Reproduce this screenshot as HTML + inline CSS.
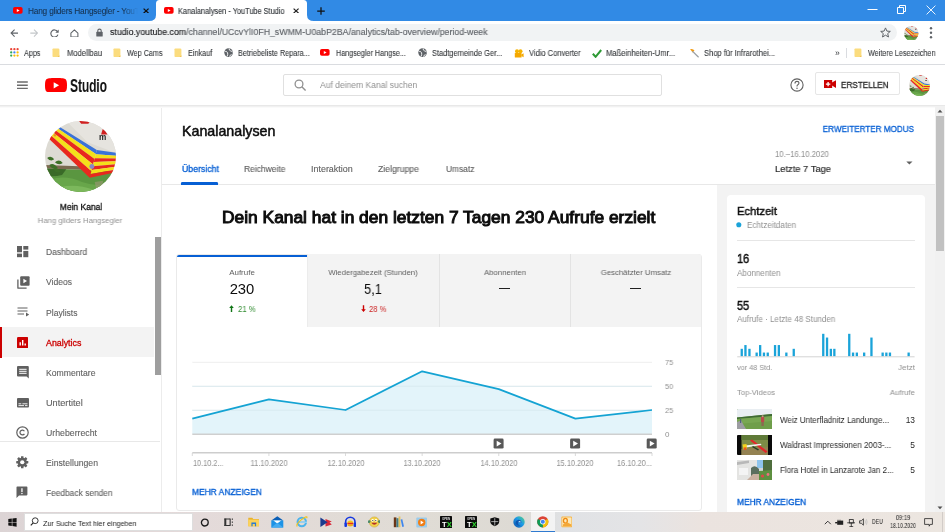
<!DOCTYPE html>
<html><head><meta charset="utf-8"><style>
*{margin:0;padding:0;box-sizing:border-box}
html,body{width:945px;height:532px;overflow:hidden;background:#fff;font-family:"Liberation Sans",sans-serif}
#root{position:absolute;left:0;top:0;width:945px;height:532px;will-change:transform}
.t{position:absolute;white-space:nowrap;will-change:transform}
.r{position:absolute}

</style></head><body><div id="root">
<div class="r" style="left:0px;top:0px;width:945px;height:21px;background:#318ae5;"></div>
<svg class="r" style="left:13px;top:7px;" width="10" height="7" viewBox="0 0 10 7"><rect x="0" y="0" width="9.6" height="6.8" rx="1.8" fill="#f00"/><path d="M3.8 1.9 L6.6 3.4 L3.8 4.9Z" fill="#fff"/></svg>
<div class="t" style="left:27.70px;top:7.07px;font-size:8.3px;line-height:8.3px;color:#17324f;font-weight:400;-webkit-text-stroke:0.08px #17324f;width:110px;padding-bottom:3px;overflow:hidden;letter-spacing:-0.2px;-webkit-mask-image:linear-gradient(90deg,#000 86%,transparent);">Hang gliders Hangsegler - YouTube</div>
<svg class="r" style="left:143.3px;top:7.7px;" width="6.2" height="5.8" viewBox="0 0 6.2 5.8"><path d="M0.6 0.6L5.6 5.2M5.6 0.6L0.6 5.2" stroke="#111" stroke-width="1.3"/></svg>
<svg class="r" style="left:149px;top:0px;" width="166" height="21" viewBox="0 0 166 21"><path d="M0 21 Q7 21 7 15 L7 3.5 Q7 0 10.5 0 L154.5 0 Q158 0 158 3.5 L158 15 Q158 21 165 21 Z" fill="#fff"/></svg>
<svg class="r" style="left:164px;top:7px;" width="10" height="7" viewBox="0 0 10 7"><rect x="0" y="0" width="9.6" height="6.8" rx="1.8" fill="#f00"/><path d="M3.8 1.9 L6.6 3.4 L3.8 4.9Z" fill="#fff"/></svg>
<div class="t" style="left:178.10px;top:7.07px;font-size:8.3px;line-height:8.3px;color:#35393d;font-weight:400;-webkit-text-stroke:0.15px #35393d;transform:scaleX(0.8865);transform-origin:0 0;">Kanalanalysen - YouTube Studio</div>
<svg class="r" style="left:293.3px;top:7.7px;" width="6.2" height="5.8" viewBox="0 0 6.2 5.8"><path d="M0.6 0.6L5.6 5.2M5.6 0.6L0.6 5.2" stroke="#222" stroke-width="1.2"/></svg>
<svg class="r" style="left:316.6px;top:6.9px;" width="8" height="8" viewBox="0 0 8 8"><path d="M4 0.2V7.8M0.2 4H7.8" stroke="#111" stroke-width="1.25"/></svg>
<svg class="r" style="left:867px;top:4px;" width="11" height="11" viewBox="0 0 11 11"><path d="M0.5 5.5H10.5" stroke="#fff" stroke-width="1"/></svg>
<svg class="r" style="left:896px;top:4px;" width="11" height="11" viewBox="0 0 11 11"><path d="M1.5 3.5H7.5V9.5H1.5Z M3.5 3.5V1.5H9.5V7.5H7.5" stroke="#fff" stroke-width="1" fill="none"/></svg>
<svg class="r" style="left:925.5px;top:4.5px;" width="10" height="10" viewBox="0 0 10 10"><path d="M0.6 0.6L9.4 9.4M9.4 0.6L0.6 9.4" stroke="#fff" stroke-width="0.9"/></svg>
<div class="r" style="left:0px;top:21px;width:945px;height:22px;background:#fff;"></div>
<svg class="r" style="left:9.5px;top:29px;" width="8.6" height="8.2" viewBox="0 0 8.6 8.2"><path d="M8.3 4.1H1.2M4.6 0.6L1.1 4.1L4.6 7.6" stroke="#5f6368" stroke-width="1.1" fill="none"/></svg>
<svg class="r" style="left:29.5px;top:29px;" width="8.6" height="8.2" viewBox="0 0 8.6 8.2"><path d="M0.3 4.1H7.4M4 0.6L7.5 4.1L4 7.6" stroke="#c4c7ca" stroke-width="1.1" fill="none"/></svg>
<svg class="r" style="left:49.8px;top:28.9px;" width="9.2" height="8.6" viewBox="0 0 9.2 8.6"><path d="M7.5 2.6A3.6 3.6 0 1 0 7.9 5.6" stroke="#5f6368" stroke-width="1.15" fill="none"/><path d="M8.7 0.4V3.8H5.3Z" fill="#5f6368"/></svg>
<svg class="r" style="left:69.8px;top:28.6px;" width="8.8" height="8.6" viewBox="0 0 8.8 8.6"><path d="M0.9 4.1L4.4 0.9L7.9 4.1V8H0.9Z" stroke="#5f6368" stroke-width="1.05" fill="none" stroke-linejoin="round"/></svg>
<div class="r" style="left:88px;top:23.6px;width:809px;height:17.7px;background:#f1f3f4;border-radius:8.85px;"></div>
<svg class="r" style="left:95px;top:28px;" width="9" height="9" viewBox="0 0 9 9"><rect x="1.3" y="3.8" width="6.4" height="4.8" rx="0.6" fill="#5f6368"/><path d="M2.8 4V2.8A1.7 1.7 0 0 1 6.2 2.8V4" stroke="#5f6368" stroke-width="1.1" fill="none"/></svg>
<div class="t" style="left:109.6px;top:28.31px;font-size:9.2px;line-height:9.2px;color:#202124;-webkit-text-stroke:0.15px #202124;transform:scaleX(0.9551);transform-origin:0 0">studio.youtube.com<span style="color:#5f6368;-webkit-text-stroke:0.15px #5f6368">/channel/UCcvYlI0FH_sWMM-U0abP2BA/analytics/tab-overview/period-week</span></div>
<svg class="r" style="left:880px;top:27px;" width="11" height="11" viewBox="0 0 11 11"><path d="M5.5 0.9L6.9 4.1L10.3 4.4L7.7 6.6L8.5 10L5.5 8.2L2.5 10L3.3 6.6L0.7 4.4L4.1 4.1Z" stroke="#5f6368" stroke-width="1" fill="none" stroke-linejoin="round"/></svg>
<svg class="r" style="left:904px;top:25.5px;" width="14.5" height="14.5" viewBox="0 0 100 100"><defs><clipPath id="CP0"><circle cx="50" cy="50" r="50"/></clipPath></defs><g clip-path="url(#CP0)"><rect width="100" height="100" fill="#dddbd4"/><path d="M30 0H100V45L60 30Z" fill="#e6e4df"/><path d="M0 62L58 64L58 69L0 67Z" fill="#7a6a50"/><path d="M0 67L58 69L100 71V100H0Z" fill="#5a9640"/><path d="M0 67L30 68L24 76Q12 79 0 77Z" fill="#3a6a28"/><path d="M8 82Q30 76 52 86Q74 94 100 86V100H0Z" fill="#68a64a"/><path d="M22 93Q45 88 68 97L72 100H22Z" fill="#7cb85c"/><path d="M70 86L82 84L80 94L72 95Z" fill="#a09878" opacity="0.6"/><path d="M3 52Q9 48 13 54Q8 58 3 52Z M14 58Q20 53 25 59Q19 63 14 58Z M6 62Q12 58 18 66Q11 70 6 62Z M12 68Q18 64 22 72Q15 74 12 68Z" fill="#3d7028"/><path d="M4.0 -2.0 L73.0 41.0 L71.6 46.5 L2.3 -0.0Z" fill="#3a72d8"/><path d="M2.3 -0.0 L71.6 46.5 L69.8 53.5 L0.2 2.5Z" fill="#f4e01a"/><path d="M0.2 2.5 L69.8 53.5 L67.8 61.3 L-2.2 5.3Z" fill="#e8281e"/><path d="M-2.2 5.3 L67.8 61.3 L65.4 70.6 L-5.1 8.6Z" fill="#f4e01a"/><path d="M-5.1 8.6 L65.4 70.6 L63.0 80.0 L-8.0 12.0Z" fill="#e8281e"/><path d="M73.0 41.0 L110.0 46.0 L110.0 49.6 L71.5 46.9Z" fill="#3a72d8"/><path d="M71.5 46.9 L110.0 49.6 L110.0 53.0 L70.1 52.3Z" fill="#f4e01a"/><path d="M70.1 52.3 L110.0 53.0 L110.0 56.3 L68.7 57.8Z" fill="#e8281e"/><path d="M68.7 57.8 L110.0 56.3 L110.0 59.9 L67.2 63.6Z" fill="#f4e01a"/><path d="M67.2 63.6 L110.0 59.9 L110.0 63.3 L65.8 69.1Z" fill="#e8281e"/><path d="M65.8 69.1 L110.0 63.3 L110.0 66.6 L64.4 74.5Z" fill="#f4e01a"/><path d="M64.4 74.5 L110.0 66.6 L110.0 70.0 L63.0 80.0Z" fill="#e8281e"/><text x="76" y="27" font-size="11.5" font-family="Liberation Sans" font-weight="700" fill="#222">m</text><path d="M82 9L88 19L79 19Z" fill="#d02020"/><path d="M48 0H64L61 4H51Z" fill="#d02020"/><circle cx="66" cy="64" r="3.5" fill="#8a86c8"/><circle cx="14" cy="20" r="1.8" fill="#f08a30"/></g></svg>
<svg class="r" style="left:929px;top:26px;" width="4" height="14" viewBox="0 0 4 14"><circle cx="2" cy="2.2" r="1.2" fill="#5f6368"/><circle cx="2" cy="6.7" r="1.2" fill="#5f6368"/><circle cx="2" cy="11.2" r="1.2" fill="#5f6368"/></svg>
<div class="r" style="left:0px;top:43px;width:945px;height:21px;background:#fff;"></div>
<div class="r" style="left:0px;top:63.5px;width:945px;height:1px;background:#dadce0;"></div>
<svg class="r" style="left:9.5px;top:48.3px;" width="9" height="9" viewBox="0 0 9 9"><circle cx="1.2" cy="1.2" r="1.15" fill="#ea4335"/><circle cx="4.4" cy="1.2" r="1.15" fill="#ea4335"/><circle cx="7.6" cy="1.2" r="1.15" fill="#ea4335"/><circle cx="1.2" cy="4.4" r="1.15" fill="#34a853"/><circle cx="4.4" cy="4.4" r="1.15" fill="#4285f4"/><circle cx="7.6" cy="4.4" r="1.15" fill="#fbbc05"/><circle cx="1.2" cy="7.6" r="1.15" fill="#34a853"/><circle cx="4.4" cy="7.6" r="1.15" fill="#fbbc05"/><circle cx="7.6" cy="7.6" r="1.15" fill="#fbbc05"/></svg>
<div class="t" style="left:24.10px;top:48.70px;font-size:8.5px;line-height:8.5px;color:#35383b;font-weight:400;-webkit-text-stroke:0.1px #35383b;transform:scaleX(0.8516);transform-origin:0 0;">Apps</div>
<svg class="r" style="left:52.3px;top:47.8px;" width="8" height="10" viewBox="0 0 8 10"><path d="M0.5 1.2Q0.5 0.5 1.2 0.5H6.2Q7.4 0.5 7.4 1.7V8.3Q7.4 9 6.7 9H1.2Q0.5 9 0.5 8.3Z" fill="#fbdc7e"/><path d="M5.6 9L7.4 7.2V9Z" fill="#eec050"/></svg>
<div class="t" style="left:66.50px;top:48.70px;font-size:8.5px;line-height:8.5px;color:#35383b;font-weight:400;-webkit-text-stroke:0.1px #35383b;transform:scaleX(0.8949);transform-origin:0 0;">Modellbau</div>
<svg class="r" style="left:113.2px;top:47.8px;" width="8" height="10" viewBox="0 0 8 10"><path d="M0.5 1.2Q0.5 0.5 1.2 0.5H6.2Q7.4 0.5 7.4 1.7V8.3Q7.4 9 6.7 9H1.2Q0.5 9 0.5 8.3Z" fill="#fbdc7e"/><path d="M5.6 9L7.4 7.2V9Z" fill="#eec050"/></svg>
<div class="t" style="left:127.00px;top:48.70px;font-size:8.5px;line-height:8.5px;color:#35383b;font-weight:400;-webkit-text-stroke:0.1px #35383b;transform:scaleX(0.8476);transform-origin:0 0;">Wep Cams</div>
<svg class="r" style="left:174.3px;top:47.8px;" width="8" height="10" viewBox="0 0 8 10"><path d="M0.5 1.2Q0.5 0.5 1.2 0.5H6.2Q7.4 0.5 7.4 1.7V8.3Q7.4 9 6.7 9H1.2Q0.5 9 0.5 8.3Z" fill="#fbdc7e"/><path d="M5.6 9L7.4 7.2V9Z" fill="#eec050"/></svg>
<div class="t" style="left:188.40px;top:48.70px;font-size:8.5px;line-height:8.5px;color:#35383b;font-weight:400;-webkit-text-stroke:0.1px #35383b;transform:scaleX(0.8536);transform-origin:0 0;">Einkauf</div>
<svg class="r" style="left:223.6px;top:48.2px;" width="9.2" height="9.2" viewBox="0 0 9.2 9.2"><circle cx="4.6" cy="4.6" r="4.3" fill="#5f6368"/><path d="M1.2 3.4Q3 3.2 3.6 4.8Q4 6.2 3.2 8.4M5.2 0.6Q5 2.4 6.4 2.8Q8 3 8.7 4.4M5.6 8.6Q6 6.8 7.6 6.6" stroke="#fff" stroke-width="0.9" fill="none"/></svg>
<div class="t" style="left:238.30px;top:48.70px;font-size:8.5px;line-height:8.5px;color:#35383b;font-weight:400;-webkit-text-stroke:0.1px #35383b;transform:scaleX(0.8526);transform-origin:0 0;">Betriebeliste Repara...</div>
<svg class="r" style="left:320.3px;top:49.3px;" width="10" height="7" viewBox="0 0 10 7"><rect x="0" y="0" width="9.6" height="6.8" rx="1.8" fill="#f00"/><path d="M3.8 1.9 L6.6 3.4 L3.8 4.9Z" fill="#fff"/></svg>
<div class="t" style="left:335.50px;top:48.70px;font-size:8.5px;line-height:8.5px;color:#35383b;font-weight:400;-webkit-text-stroke:0.1px #35383b;transform:scaleX(0.8490);transform-origin:0 0;">Hangsegler Hangse...</div>
<svg class="r" style="left:417.6px;top:48.2px;" width="9.2" height="9.2" viewBox="0 0 9.2 9.2"><circle cx="4.6" cy="4.6" r="4.3" fill="#5f6368"/><path d="M1.2 3.4Q3 3.2 3.6 4.8Q4 6.2 3.2 8.4M5.2 0.6Q5 2.4 6.4 2.8Q8 3 8.7 4.4M5.6 8.6Q6 6.8 7.6 6.6" stroke="#fff" stroke-width="0.9" fill="none"/></svg>
<div class="t" style="left:432.20px;top:48.70px;font-size:8.5px;line-height:8.5px;color:#35383b;font-weight:400;-webkit-text-stroke:0.1px #35383b;transform:scaleX(0.8752);transform-origin:0 0;">Stadtgemeinde Ger...</div>
<svg class="r" style="left:514px;top:48.5px;" width="10" height="9" viewBox="0 0 10 9"><circle cx="3" cy="2.3" r="2" fill="#f5b301"/><circle cx="6.5" cy="2.3" r="2" fill="#f5b301"/><rect x="0.8" y="4" width="6.8" height="4.5" rx="0.6" fill="#f5a800"/><path d="M7.4 5.4L9.6 4.2V8.2L7.4 7Z" fill="#f5a800"/></svg>
<div class="t" style="left:529.00px;top:48.70px;font-size:8.5px;line-height:8.5px;color:#35383b;font-weight:400;-webkit-text-stroke:0.1px #35383b;transform:scaleX(0.8848);transform-origin:0 0;">Vidio Converter</div>
<svg class="r" style="left:591.8px;top:48.5px;" width="10" height="9" viewBox="0 0 10 9"><path d="M0.8 4.8L3.6 7.8L9.2 1" stroke="#2e9a35" stroke-width="2" fill="none"/></svg>
<div class="t" style="left:606.30px;top:48.70px;font-size:8.5px;line-height:8.5px;color:#35383b;font-weight:400;-webkit-text-stroke:0.1px #35383b;transform:scaleX(0.8974);transform-origin:0 0;">Maßeinheiten-Umr...</div>
<svg class="r" style="left:688.8px;top:48.3px;" width="11" height="10" viewBox="0 0 11 10"><path d="M1 1.2Q4 0.2 5.5 2.6L3.4 4.4Q2.6 2.4 1 1.2Z" fill="#f39c12"/><path d="M3.5 3.2L9.6 9.2" stroke="#9aa0a6" stroke-width="1.2"/></svg>
<div class="t" style="left:703.60px;top:48.70px;font-size:8.5px;line-height:8.5px;color:#35383b;font-weight:400;-webkit-text-stroke:0.1px #35383b;transform:scaleX(0.8892);transform-origin:0 0;">Shop für Infrarothei...</div>
<div class="t" style="left:835.00px;top:48.70px;font-size:8.5px;line-height:8.5px;color:#35383b;font-weight:400;">»</div>
<div class="r" style="left:846px;top:48px;width:1px;height:9.5px;background:#dadce0;"></div>
<svg class="r" style="left:854.2px;top:47.8px;" width="8" height="10" viewBox="0 0 8 10"><path d="M0.5 1.2Q0.5 0.5 1.2 0.5H6.2Q7.4 0.5 7.4 1.7V8.3Q7.4 9 6.7 9H1.2Q0.5 9 0.5 8.3Z" fill="#fbdc7e"/><path d="M5.6 9L7.4 7.2V9Z" fill="#eec050"/></svg>
<div class="t" style="left:868.30px;top:48.70px;font-size:8.5px;line-height:8.5px;color:#35383b;font-weight:400;-webkit-text-stroke:0.1px #35383b;transform:scaleX(0.8520);transform-origin:0 0;">Weitere Lesezeichen</div>
<div class="r" style="left:717px;top:184.5px;width:218px;height:328px;background:#f3f3f3;"></div>
<div class="r" style="left:161px;top:184px;width:774px;height:1px;background:#e8e8e8;"></div>
<div class="r" style="left:160.6px;top:105px;width:1.4px;height:407px;background:#ececec;"></div>
<div class="r" style="left:155px;top:105px;width:5px;height:407px;background:#fff;"></div>
<div class="r" style="left:155.2px;top:236.5px;width:5.6px;height:138.3px;background:#9e9e9e;"></div>
<div class="r" style="left:935px;top:105px;width:10px;height:407px;background:#f1f1f1;"></div>
<div class="r" style="left:936px;top:116px;width:8px;height:134.6px;background:#c1c1c1;"></div>
<svg class="r" style="left:936px;top:108px;" width="8" height="6" viewBox="0 0 8 6"><path d="M1.5 4.5L4 1.8L6.5 4.5Z" fill="#505050"/></svg>
<svg class="r" style="left:936px;top:504.5px;" width="8" height="6" viewBox="0 0 8 6"><path d="M1.5 1.5L4 4.2L6.5 1.5Z" fill="#505050"/></svg>
<div class="r" style="left:0px;top:64.5px;width:945px;height:40.5px;background:#fff;"></div>
<div class="r" style="left:0px;top:105px;width:945px;height:1px;background:#e8e8e8;"></div>
<div class="r" style="left:0px;top:106px;width:945px;height:1px;background:#f1f1f1;"></div>
<div class="r" style="left:0px;top:107px;width:935px;height:1px;background:#fafafa;"></div>
<svg class="r" style="left:17.1px;top:80px;" width="10.8" height="10" viewBox="0 0 10.8 10"><path d="M0 1.9H10.8M0 5.2H10.8M0 8.4H10.8" stroke="#6c6c6c" stroke-width="1.45"/></svg>
<svg class="r" style="left:45.1px;top:77.7px;" width="22" height="14.6" viewBox="0 0 22 14.6"><path d="M11 0C17.5 0 19.6 0.3 20.6 1.2C21.7 2.2 22 4 22 7.3C22 10.6 21.7 12.4 20.6 13.4C19.6 14.3 17.5 14.6 11 14.6C4.5 14.6 2.4 14.3 1.4 13.4C0.3 12.4 0 10.6 0 7.3C0 4 0.3 2.2 1.4 1.2C2.4 0.3 4.5 0 11 0Z" fill="#f00"/><path d="M8.7 4.2L14.1 7.3L8.7 10.4Z" fill="#fff"/></svg>
<div class="t" style="left:69.80px;top:77.48px;font-size:18.2px;line-height:18.2px;color:#111;font-weight:700;transform:scaleX(0.665);transform-origin:0 0;letter-spacing:-0.2px;">Studio</div>
<div class="r" style="left:283.3px;top:73.8px;width:379px;height:22.5px;background:#fff;border:1px solid #e0e0e0;border-radius:2px;"></div>
<svg class="r" style="left:294px;top:79px;" width="13" height="13" viewBox="0 0 13 13"><circle cx="5" cy="5" r="3.9" stroke="#909090" stroke-width="1.3" fill="none"/><path d="M7.8 7.8L11.6 11.6" stroke="#909090" stroke-width="1.4"/></svg>
<div class="t" style="left:319.70px;top:81.08px;font-size:9px;line-height:9px;color:#909090;font-weight:400;transform:scaleX(0.9486);transform-origin:0 0;">Auf deinem Kanal suchen</div>
<svg class="r" style="left:790px;top:78px;" width="14" height="14" viewBox="0 0 14 14"><circle cx="7" cy="7" r="6.1" stroke="#606060" stroke-width="1.1" fill="none"/><path d="M5 5.4Q5 3.4 7 3.4Q9 3.4 9 5.1Q9 6.2 7.6 6.9Q7 7.3 7 8.4" stroke="#606060" stroke-width="1.1" fill="none"/><circle cx="7" cy="10.3" r="0.75" fill="#606060"/></svg>
<div class="r" style="left:815.4px;top:72.2px;width:84.2px;height:22.5px;background:#fff;border:1px solid #e6e6e6;border-radius:2px;"></div>
<svg class="r" style="left:824px;top:80.2px;" width="12" height="8.2" viewBox="0 0 12 8.2"><rect x="0" y="0" width="8.2" height="8.2" fill="#cc0000"/><path d="M8 2.6L12 0.3V7.9L8 5.6Z" fill="#cc0000"/><path d="M4.1 1.9V6.3M1.9 4.1H6.3" stroke="#fff" stroke-width="1.3"/></svg>
<div class="t" style="left:841.00px;top:80.51px;font-size:9.2px;line-height:9.2px;color:#282828;font-weight:400;-webkit-text-stroke:0.3px #282828;transform:scaleX(0.8866);transform-origin:0 0;">ERSTELLEN</div>
<svg class="r" style="left:909.2px;top:74.5px;" width="21" height="21" viewBox="0 0 100 100"><defs><clipPath id="CP"><circle cx="50" cy="50" r="50"/></clipPath></defs><g clip-path="url(#CP)"><rect width="100" height="100" fill="#dddbd4"/><path d="M30 0H100V45L60 30Z" fill="#e6e4df"/><path d="M0 62L58 64L58 69L0 67Z" fill="#7a6a50"/><path d="M0 67L58 69L100 71V100H0Z" fill="#5a9640"/><path d="M0 67L30 68L24 76Q12 79 0 77Z" fill="#3a6a28"/><path d="M8 82Q30 76 52 86Q74 94 100 86V100H0Z" fill="#68a64a"/><path d="M22 93Q45 88 68 97L72 100H22Z" fill="#7cb85c"/><path d="M70 86L82 84L80 94L72 95Z" fill="#a09878" opacity="0.6"/><path d="M3 52Q9 48 13 54Q8 58 3 52Z M14 58Q20 53 25 59Q19 63 14 58Z M6 62Q12 58 18 66Q11 70 6 62Z M12 68Q18 64 22 72Q15 74 12 68Z" fill="#3d7028"/><path d="M4.0 -2.0 L73.0 41.0 L71.6 46.5 L2.3 -0.0Z" fill="#3a72d8"/><path d="M2.3 -0.0 L71.6 46.5 L69.8 53.5 L0.2 2.5Z" fill="#f4e01a"/><path d="M0.2 2.5 L69.8 53.5 L67.8 61.3 L-2.2 5.3Z" fill="#e8281e"/><path d="M-2.2 5.3 L67.8 61.3 L65.4 70.6 L-5.1 8.6Z" fill="#f4e01a"/><path d="M-5.1 8.6 L65.4 70.6 L63.0 80.0 L-8.0 12.0Z" fill="#e8281e"/><path d="M73.0 41.0 L110.0 46.0 L110.0 49.6 L71.5 46.9Z" fill="#3a72d8"/><path d="M71.5 46.9 L110.0 49.6 L110.0 53.0 L70.1 52.3Z" fill="#f4e01a"/><path d="M70.1 52.3 L110.0 53.0 L110.0 56.3 L68.7 57.8Z" fill="#e8281e"/><path d="M68.7 57.8 L110.0 56.3 L110.0 59.9 L67.2 63.6Z" fill="#f4e01a"/><path d="M67.2 63.6 L110.0 59.9 L110.0 63.3 L65.8 69.1Z" fill="#e8281e"/><path d="M65.8 69.1 L110.0 63.3 L110.0 66.6 L64.4 74.5Z" fill="#f4e01a"/><path d="M64.4 74.5 L110.0 66.6 L110.0 70.0 L63.0 80.0Z" fill="#e8281e"/><text x="76" y="27" font-size="11.5" font-family="Liberation Sans" font-weight="700" fill="#222">m</text><path d="M82 9L88 19L79 19Z" fill="#d02020"/><path d="M48 0H64L61 4H51Z" fill="#d02020"/><circle cx="66" cy="64" r="3.5" fill="#8a86c8"/><circle cx="14" cy="20" r="1.8" fill="#f08a30"/></g></svg>
<svg class="r" style="left:45.2px;top:120.8px;" width="71" height="71" viewBox="0 0 100 100"><g clip-path="url(#CP2)"><rect width="100" height="100" fill="#dddbd4"/><path d="M30 0H100V45L60 30Z" fill="#e6e4df"/><path d="M0 62L58 64L58 69L0 67Z" fill="#7a6a50"/><path d="M0 67L58 69L100 71V100H0Z" fill="#5a9640"/><path d="M0 67L30 68L24 76Q12 79 0 77Z" fill="#3a6a28"/><path d="M8 82Q30 76 52 86Q74 94 100 86V100H0Z" fill="#68a64a"/><path d="M22 93Q45 88 68 97L72 100H22Z" fill="#7cb85c"/><path d="M70 86L82 84L80 94L72 95Z" fill="#a09878" opacity="0.6"/><path d="M3 52Q9 48 13 54Q8 58 3 52Z M14 58Q20 53 25 59Q19 63 14 58Z M6 62Q12 58 18 66Q11 70 6 62Z M12 68Q18 64 22 72Q15 74 12 68Z" fill="#3d7028"/><path d="M4.0 -2.0 L73.0 41.0 L71.6 46.5 L2.3 -0.0Z" fill="#3a72d8"/><path d="M2.3 -0.0 L71.6 46.5 L69.8 53.5 L0.2 2.5Z" fill="#f4e01a"/><path d="M0.2 2.5 L69.8 53.5 L67.8 61.3 L-2.2 5.3Z" fill="#e8281e"/><path d="M-2.2 5.3 L67.8 61.3 L65.4 70.6 L-5.1 8.6Z" fill="#f4e01a"/><path d="M-5.1 8.6 L65.4 70.6 L63.0 80.0 L-8.0 12.0Z" fill="#e8281e"/><path d="M73.0 41.0 L110.0 46.0 L110.0 49.6 L71.5 46.9Z" fill="#3a72d8"/><path d="M71.5 46.9 L110.0 49.6 L110.0 53.0 L70.1 52.3Z" fill="#f4e01a"/><path d="M70.1 52.3 L110.0 53.0 L110.0 56.3 L68.7 57.8Z" fill="#e8281e"/><path d="M68.7 57.8 L110.0 56.3 L110.0 59.9 L67.2 63.6Z" fill="#f4e01a"/><path d="M67.2 63.6 L110.0 59.9 L110.0 63.3 L65.8 69.1Z" fill="#e8281e"/><path d="M65.8 69.1 L110.0 63.3 L110.0 66.6 L64.4 74.5Z" fill="#f4e01a"/><path d="M64.4 74.5 L110.0 66.6 L110.0 70.0 L63.0 80.0Z" fill="#e8281e"/><text x="76" y="27" font-size="11.5" font-family="Liberation Sans" font-weight="700" fill="#222">m</text><path d="M82 9L88 19L79 19Z" fill="#d02020"/><path d="M48 0H64L61 4H51Z" fill="#d02020"/><circle cx="66" cy="64" r="3.5" fill="#8a86c8"/><circle cx="14" cy="20" r="1.8" fill="#f08a30"/></g></svg>
<svg width="0" height="0" style="position:absolute"><defs><clipPath id="CP2"><circle cx="50" cy="50" r="50"/></clipPath></defs></svg>
<div class="t" style="left:-219.40px;width:600px;text-align:center;top:203.22px;font-size:8.6px;line-height:8.6px;color:#0d0d0d;font-weight:400;-webkit-text-stroke:0.3px #0d0d0d;transform:scaleX(0.9855);transform-origin:50% 0;">Mein Kanal</div>
<div class="t" style="left:-220.00px;width:600px;text-align:center;top:216.89px;font-size:7.8px;line-height:7.8px;color:#909090;font-weight:400;transform:scaleX(0.9831);transform-origin:50% 0;">Hang gliders Hangsegler</div>
<div class="r" style="left:0px;top:327.1px;width:154px;height:30.3px;background:#f3f3f3;"></div>
<div class="r" style="left:0px;top:327.1px;width:2.3px;height:30.5px;background:#cc0000;"></div>
<div class="t" style="left:45.50px;top:248.02px;font-size:8.6px;line-height:8.6px;color:#606060;font-weight:400;-webkit-text-stroke:0.1px #606060;transform:scaleX(0.9793);transform-origin:0 0;">Dashboard</div>
<div class="t" style="left:45.50px;top:278.02px;font-size:8.6px;line-height:8.6px;color:#606060;font-weight:400;-webkit-text-stroke:0.1px #606060;transform:scaleX(0.9946);transform-origin:0 0;">Videos</div>
<div class="t" style="left:45.50px;top:308.52px;font-size:8.6px;line-height:8.6px;color:#606060;font-weight:400;-webkit-text-stroke:0.1px #606060;transform:scaleX(0.9987);transform-origin:0 0;">Playlists</div>
<div class="t" style="left:45.50px;top:338.52px;font-size:8.6px;line-height:8.6px;color:#cc0000;font-weight:400;-webkit-text-stroke:0.3px #cc0000;transform:scaleX(1.0287);transform-origin:0 0;">Analytics</div>
<div class="t" style="left:45.50px;top:368.82px;font-size:8.6px;line-height:8.6px;color:#606060;font-weight:400;-webkit-text-stroke:0.1px #606060;transform:scaleX(1.0054);transform-origin:0 0;">Kommentare</div>
<div class="t" style="left:45.50px;top:398.82px;font-size:8.6px;line-height:8.6px;color:#606060;font-weight:400;-webkit-text-stroke:0.1px #606060;transform:scaleX(1.0665);transform-origin:0 0;">Untertitel</div>
<div class="t" style="left:45.50px;top:429.02px;font-size:8.6px;line-height:8.6px;color:#606060;font-weight:400;-webkit-text-stroke:0.1px #606060;transform:scaleX(1.0161);transform-origin:0 0;">Urheberrecht</div>
<div class="t" style="left:45.50px;top:459.02px;font-size:8.6px;line-height:8.6px;color:#606060;font-weight:400;-webkit-text-stroke:0.1px #606060;transform:scaleX(1.0070);transform-origin:0 0;">Einstellungen</div>
<div class="t" style="left:45.50px;top:489.02px;font-size:8.6px;line-height:8.6px;color:#606060;font-weight:400;-webkit-text-stroke:0.1px #606060;transform:scaleX(0.9741);transform-origin:0 0;">Feedback senden</div>
<div class="r" style="left:0px;top:441px;width:160px;height:1px;background:#e8e8e8;"></div>
<svg class="r" style="left:17px;top:246px;" width="11.5" height="11.5" viewBox="0 0 11.5 11.5"><rect x="0" y="0" width="5" height="6.3" fill="#606060"/><rect x="6.3" y="0" width="5" height="3.6" fill="#606060"/><rect x="0" y="7.6" width="5" height="3.6" fill="#606060"/><rect x="6.3" y="4.9" width="5" height="6.3" fill="#606060"/></svg>
<svg class="r" style="left:16.5px;top:275.5px;" width="13" height="13" viewBox="0 0 13 13"><path d="M0.9 3.4V11.9Q0.9 12.2 1.2 12.2H9.6" stroke="#606060" stroke-width="1.3" fill="none"/><rect x="3.2" y="0.3" width="9.4" height="9.4" rx="1" fill="#606060"/><path d="M6.4 2.7L10 5L6.4 7.3Z" fill="#fff"/></svg>
<svg class="r" style="left:16.8px;top:307px;" width="12.5" height="9.5" viewBox="0 0 12.5 9.5"><path d="M0.5 1H10.5M0.5 4H10.5M0.5 7H7" stroke="#606060" stroke-width="1.2"/><path d="M9 5.5L12.3 7.6L9 9.6Z" fill="#606060"/></svg>
<svg class="r" style="left:16.9px;top:336.5px;" width="11.5" height="11.7" viewBox="0 0 11.5 11.7"><rect x="0" y="0" width="11.3" height="11.5" rx="1.3" fill="#cc0000"/><path d="M3.2 8.5V5.2M5.7 8.5V3M8.2 8.5V6.6" stroke="#fff" stroke-width="1.4"/></svg>
<svg class="r" style="left:16.8px;top:366px;" width="12" height="13" viewBox="0 0 12 13"><path d="M1 0H10.8Q11.8 0 11.8 1V12.6L9.6 10.4H1Q0 10.4 0 9.4V1Q0 0 1 0Z" fill="#606060"/><path d="M2.2 3.3H9.6M2.2 5.3H9.6M2.2 7.3H9.6" stroke="#fff" stroke-width="1"/></svg>
<svg class="r" style="left:16.9px;top:397.8px;" width="12.2" height="10" viewBox="0 0 12.2 10"><rect x="0" y="0" width="12" height="9.5" rx="1" fill="#606060"/><path d="M1.5 5.8H4.3M5.4 5.8H10.5M1.5 7.6H7M8 7.6H10.5" stroke="#fff" stroke-width="0.9"/></svg>
<svg class="r" style="left:16.3px;top:426.3px;" width="13" height="13" viewBox="0 0 13 13"><circle cx="6.5" cy="6.5" r="5.7" stroke="#606060" stroke-width="1.2" fill="none"/><path d="M8.4 5.2A2.4 2.4 0 1 0 8.4 7.8" stroke="#606060" stroke-width="1.2" fill="none"/></svg>
<svg class="r" style="left:16.45px;top:456px;" width="12.5" height="12.5" viewBox="0 0 12.5 12.5"><circle cx="6.25" cy="6.25" r="4.6" fill="#606060"/><rect x="5.00" y="0.2" width="2.5" height="3" rx="0.4" fill="#606060" transform="rotate(0 6.25 6.25)"/><rect x="5.00" y="0.2" width="2.5" height="3" rx="0.4" fill="#606060" transform="rotate(45 6.25 6.25)"/><rect x="5.00" y="0.2" width="2.5" height="3" rx="0.4" fill="#606060" transform="rotate(90 6.25 6.25)"/><rect x="5.00" y="0.2" width="2.5" height="3" rx="0.4" fill="#606060" transform="rotate(135 6.25 6.25)"/><rect x="5.00" y="0.2" width="2.5" height="3" rx="0.4" fill="#606060" transform="rotate(180 6.25 6.25)"/><rect x="5.00" y="0.2" width="2.5" height="3" rx="0.4" fill="#606060" transform="rotate(225 6.25 6.25)"/><rect x="5.00" y="0.2" width="2.5" height="3" rx="0.4" fill="#606060" transform="rotate(270 6.25 6.25)"/><rect x="5.00" y="0.2" width="2.5" height="3" rx="0.4" fill="#606060" transform="rotate(315 6.25 6.25)"/><circle cx="6.25" cy="6.25" r="2.1" fill="#fff"/></svg>
<svg class="r" style="left:16.3px;top:485.6px;" width="12.5" height="12.5" viewBox="0 0 12.5 12.5"><path d="M0.5 1.2Q0.5 0.4 1.3 0.4H10.6Q11.4 0.4 11.4 1.2V8.6Q11.4 9.4 10.6 9.4H3L0.5 11.9Z" fill="#606060"/><path d="M5.95 2.2V5.9" stroke="#fff" stroke-width="1.3"/><circle cx="5.95" cy="7.4" r="0.75" fill="#fff"/></svg>
<div class="t" style="left:181.50px;top:123.57px;font-size:14.2px;line-height:14.2px;color:#0d0d0d;font-weight:400;-webkit-text-stroke:0.5px #0d0d0d;transform:scaleX(1.0036);transform-origin:0 0;">Kanalanalysen</div>
<div class="t" style="left:181.50px;top:165.35px;font-size:8.8px;line-height:8.8px;color:#065fd4;font-weight:400;-webkit-text-stroke:0.3px #065fd4;transform:scaleX(0.9901);transform-origin:0 0;">Übersicht</div>
<div class="t" style="left:243.70px;top:165.35px;font-size:8.8px;line-height:8.8px;color:#606060;font-weight:400;-webkit-text-stroke:0.12px #606060;transform:scaleX(0.9619);transform-origin:0 0;">Reichweite</div>
<div class="t" style="left:310.60px;top:165.35px;font-size:8.8px;line-height:8.8px;color:#606060;font-weight:400;-webkit-text-stroke:0.12px #606060;transform:scaleX(1.0148);transform-origin:0 0;">Interaktion</div>
<div class="t" style="left:378.30px;top:165.35px;font-size:8.8px;line-height:8.8px;color:#606060;font-weight:400;-webkit-text-stroke:0.12px #606060;transform:scaleX(0.9836);transform-origin:0 0;">Zielgruppe</div>
<div class="t" style="left:445.60px;top:165.35px;font-size:8.8px;line-height:8.8px;color:#606060;font-weight:400;-webkit-text-stroke:0.12px #606060;transform:scaleX(0.9522);transform-origin:0 0;">Umsatz</div>
<div class="r" style="left:181px;top:182px;width:36.5px;height:2.5px;background:#065fd4;border-radius:1.2px 1.2px 0 0;"></div>
<div class="t" style="left:314.30px;width:600px;text-align:right;top:124.98px;font-size:9px;line-height:9px;color:#065fd4;font-weight:400;-webkit-text-stroke:0.3px #065fd4;transform:scaleX(0.9024);transform-origin:100% 0;">ERWEITERTER MODUS</div>
<div class="t" style="left:775.00px;top:150.17px;font-size:8.3px;line-height:8.3px;color:#909090;font-weight:400;transform:scaleX(0.9342);transform-origin:0 0;">10.–16.10.2020</div>
<div class="t" style="left:775.00px;top:164.07px;font-size:9.6px;line-height:9.6px;color:#282828;font-weight:400;-webkit-text-stroke:0.15px #282828;transform:scaleX(0.9744);transform-origin:0 0;">Letzte 7 Tage</div>
<svg class="r" style="left:906px;top:160.5px;" width="7" height="4" viewBox="0 0 7 4"><path d="M0.3 0.5H6.5L3.4 3.6Z" fill="#606060"/></svg>
<div class="t" style="left:222.20px;top:208.50px;font-size:17.0px;line-height:17.0px;color:#0d0d0d;font-weight:400;-webkit-text-stroke:1.0px #0d0d0d;transform:scaleX(1.0218);transform-origin:0 0;">Dein Kanal hat in den letzten 7 Tagen 230 Aufrufe erzielt</div>
<div class="r" style="left:176.3px;top:254.3px;width:525.4px;height:256.6px;background:#fff;border:1px solid #eaeaea;border-radius:3px;"></div>
<div class="r" style="left:306.8px;top:254.3px;width:394.2px;height:72.4px;background:#f3f3f3;border-top-right-radius:3px;"></div>
<div class="r" style="left:177px;top:254.5px;width:130.5px;height:2.2px;background:#065fd4;border-top-left-radius:2px;"></div>
<div class="r" style="left:439px;top:254.3px;width:1px;height:72.5px;background:#e3e3e3;"></div>
<div class="r" style="left:570.2px;top:254.3px;width:1px;height:72.5px;background:#e3e3e3;"></div>
<div class="r" style="left:306.8px;top:254.3px;width:1px;height:72.4px;background:#ececec;"></div>
<div class="t" style="left:-57.75px;width:600px;text-align:center;top:268.61px;font-size:7.9px;line-height:7.9px;color:#606060;font-weight:400;transform:scaleX(1.0090);transform-origin:50% 0;">Aufrufe</div>
<div class="t" style="left:73.25px;width:600px;text-align:center;top:268.61px;font-size:7.9px;line-height:7.9px;color:#606060;font-weight:400;transform:scaleX(0.9741);transform-origin:50% 0;">Wiedergabezeit (Stunden)</div>
<div class="t" style="left:204.60px;width:600px;text-align:center;top:268.61px;font-size:7.9px;line-height:7.9px;color:#606060;font-weight:400;transform:scaleX(0.9833);transform-origin:50% 0;">Abonnenten</div>
<div class="t" style="left:335.60px;width:600px;text-align:center;top:268.61px;font-size:7.9px;line-height:7.9px;color:#606060;font-weight:400;transform:scaleX(0.9852);transform-origin:50% 0;">Geschätzter Umsatz</div>
<div class="t" style="left:-57.75px;width:600px;text-align:center;top:282.09px;font-size:14.3px;line-height:14.3px;color:#0d0d0d;font-weight:400;transform:scaleX(1.0352);transform-origin:50% 0;">230</div>
<div class="t" style="left:73.25px;width:600px;text-align:center;top:282.09px;font-size:14.3px;line-height:14.3px;color:#0d0d0d;font-weight:400;transform:scaleX(0.8904);transform-origin:50% 0;">5,1</div>
<div class="r" style="left:499.4px;top:287.6px;width:10.8px;height:1.4px;background:#202020;"></div>
<div class="r" style="left:630.3px;top:287.6px;width:10.8px;height:1.4px;background:#202020;"></div>
<svg class="r" style="left:229.3px;top:305.4px;" width="5" height="7" viewBox="0 0 5 7"><path d="M2.5 0.3L4.8 2.9H3.2V6.9H1.8V2.9H0.2Z" fill="#107516"/></svg>
<div class="t" style="left:238.00px;top:305.39px;font-size:8.4px;line-height:8.4px;color:#2e8b2e;font-weight:400;transform:scaleX(0.9140);transform-origin:0 0;">21 %</div>
<svg class="r" style="left:360.8px;top:305.4px;" width="5" height="7" viewBox="0 0 5 7"><path d="M2.5 6.9L4.8 4.3H3.2V0.3H1.8V4.3H0.2Z" fill="#c00"/></svg>
<div class="t" style="left:369.00px;top:305.39px;font-size:8.4px;line-height:8.4px;color:#cc2222;font-weight:400;transform:scaleX(0.9036);transform-origin:0 0;">28 %</div>
<svg class="r" style="left:0px;top:0px;" width="945" height="532" viewBox="0 0 945 532"><path d="M192.3 362.3H652" stroke="#ececec" stroke-width="0.9"/><path d="M192.3 386.3H652" stroke="#ececec" stroke-width="0.9"/><path d="M192.3 410.3H652" stroke="#ececec" stroke-width="0.9"/><path d="M192.3 434 L192.30,418.61 L268.92,399.39 L345.53,410.00 L422.15,371.29 L498.77,389.16 L575.38,418.61 L652.00,410.00 L652 434Z" fill="#e3f4fa"/><path d="M192.3 386.3H652" stroke="#d5e9f0" stroke-width="0.8"/><path d="M192.3 410.3H652" stroke="#d5e9f0" stroke-width="0.8"/><path d="M192.3 434.2H652" stroke="#cfcfcf" stroke-width="1.4"/><polyline points="192.30,418.61 268.92,399.39 345.53,410.00 422.15,371.29 498.77,389.16 575.38,418.61 652.00,410.00" fill="none" stroke="#14a3d3" stroke-width="1.75" stroke-linejoin="round"/><path d="M192.3 452.8H652" stroke="#cdcdcd" stroke-width="1.6"/><path d="M192.30 453V456" stroke="#d0d0d0" stroke-width="0.8"/><path d="M268.92 453V456" stroke="#d0d0d0" stroke-width="0.8"/><path d="M345.53 453V456" stroke="#d0d0d0" stroke-width="0.8"/><path d="M422.15 453V456" stroke="#d0d0d0" stroke-width="0.8"/><path d="M498.77 453V456" stroke="#d0d0d0" stroke-width="0.8"/><path d="M575.38 453V456" stroke="#d0d0d0" stroke-width="0.8"/><path d="M652.00 453V456" stroke="#d0d0d0" stroke-width="0.8"/><rect x="493.6" y="438.6" width="10" height="10" rx="1.3" fill="#585858"/><path d="M496.7 440.8L501.5 443.6L496.7 446.4Z" fill="#fff"/><rect x="570.1" y="438.6" width="10" height="10" rx="1.3" fill="#585858"/><path d="M573.2 440.8L578.0 443.6L573.2 446.4Z" fill="#fff"/><rect x="646.7" y="438.6" width="10" height="10" rx="1.3" fill="#585858"/><path d="M649.8 440.8L654.6 443.6L649.8 446.4Z" fill="#fff"/></svg>
<div class="t" style="left:665.30px;top:358.92px;font-size:8.0px;line-height:8.0px;color:#909090;font-weight:400;transform:scaleX(0.9215);transform-origin:0 0;">75</div>
<div class="t" style="left:665.30px;top:382.92px;font-size:8.0px;line-height:8.0px;color:#909090;font-weight:400;transform:scaleX(0.9215);transform-origin:0 0;">50</div>
<div class="t" style="left:665.30px;top:406.92px;font-size:8.0px;line-height:8.0px;color:#909090;font-weight:400;transform:scaleX(0.9215);transform-origin:0 0;">25</div>
<div class="t" style="left:665.30px;top:430.62px;font-size:8.0px;line-height:8.0px;color:#909090;font-weight:400;transform:scaleX(0.9889);transform-origin:0 0;">0</div>
<div class="t" style="left:192.90px;top:459.85px;font-size:8.2px;line-height:8.2px;color:#909090;font-weight:400;transform:scaleX(0.8920);transform-origin:0 0;">10.10.2...</div>
<div class="t" style="left:-31.08px;width:600px;text-align:center;top:459.85px;font-size:8.2px;line-height:8.2px;color:#909090;font-weight:400;transform:scaleX(0.9176);transform-origin:50% 0;">11.10.2020</div>
<div class="t" style="left:45.53px;width:600px;text-align:center;top:459.85px;font-size:8.2px;line-height:8.2px;color:#909090;font-weight:400;transform:scaleX(0.9040);transform-origin:50% 0;">12.10.2020</div>
<div class="t" style="left:122.15px;width:600px;text-align:center;top:459.85px;font-size:8.2px;line-height:8.2px;color:#909090;font-weight:400;transform:scaleX(0.9040);transform-origin:50% 0;">13.10.2020</div>
<div class="t" style="left:198.77px;width:600px;text-align:center;top:459.85px;font-size:8.2px;line-height:8.2px;color:#909090;font-weight:400;transform:scaleX(0.9040);transform-origin:50% 0;">14.10.2020</div>
<div class="t" style="left:275.38px;width:600px;text-align:center;top:459.85px;font-size:8.2px;line-height:8.2px;color:#909090;font-weight:400;transform:scaleX(0.9040);transform-origin:50% 0;">15.10.2020</div>
<div class="t" style="left:52.00px;width:600px;text-align:right;top:459.85px;font-size:8.2px;line-height:8.2px;color:#909090;font-weight:400;transform:scaleX(0.9031);transform-origin:100% 0;">16.10.20...</div>
<div class="t" style="left:192.00px;top:486.55px;font-size:9.5px;line-height:9.5px;color:#065fd4;font-weight:400;-webkit-text-stroke:0.35px #065fd4;transform:scaleX(0.8888);transform-origin:0 0;">MEHR ANZEIGEN</div>
<div class="r" style="left:727.2px;top:194.9px;width:197.8px;height:330px;background:#fff;border-radius:4px;"></div>
<div class="t" style="left:737.20px;top:206.11px;font-size:11.8px;line-height:11.8px;color:#0d0d0d;font-weight:400;-webkit-text-stroke:0.45px #0d0d0d;transform:scaleX(0.9530);transform-origin:0 0;">Echtzeit</div>
<svg class="r" style="left:736.3px;top:222.3px;" width="6" height="6" viewBox="0 0 6 6"><circle cx="2.8" cy="2.7" r="2.55" fill="#1aa3d9"/></svg>
<div class="t" style="left:746.80px;top:221.42px;font-size:8.6px;line-height:8.6px;color:#909090;font-weight:400;transform:scaleX(0.9441);transform-origin:0 0;">Echtzeitdaten</div>
<div class="r" style="left:737.2px;top:240px;width:177.4px;height:0.9px;background:#e6e6e6;"></div>
<div class="t" style="left:737.20px;top:253.47px;font-size:12.2px;line-height:12.2px;color:#0d0d0d;font-weight:400;-webkit-text-stroke:0.45px #0d0d0d;transform:scaleX(0.8990);transform-origin:0 0;">16</div>
<div class="t" style="left:737.20px;top:268.73px;font-size:8.7px;line-height:8.7px;color:#909090;font-weight:400;transform:scaleX(0.9291);transform-origin:0 0;">Abonnenten</div>
<div class="r" style="left:737.2px;top:287px;width:177.4px;height:0.9px;background:#e6e6e6;"></div>
<div class="t" style="left:737.20px;top:299.77px;font-size:12.2px;line-height:12.2px;color:#0d0d0d;font-weight:400;-webkit-text-stroke:0.45px #0d0d0d;transform:scaleX(0.8990);transform-origin:0 0;">55</div>
<div class="t" style="left:737.20px;top:314.92px;font-size:8.6px;line-height:8.6px;color:#909090;font-weight:400;transform:scaleX(0.9355);transform-origin:0 0;">Aufrufe · Letzte 48 Stunden</div>
<svg class="r" style="left:0px;top:0px;" width="945" height="532" viewBox="0 0 945 532"><rect x="740.60" y="348.80" width="2.3" height="7.50" fill="#1aa3d9"/><rect x="744.30" y="345.05" width="2.3" height="11.25" fill="#1aa3d9"/><rect x="748.30" y="348.80" width="2.3" height="7.50" fill="#1aa3d9"/><rect x="755.50" y="352.55" width="2.3" height="3.75" fill="#1aa3d9"/><rect x="759.00" y="345.05" width="2.3" height="11.25" fill="#1aa3d9"/><rect x="762.80" y="352.55" width="2.3" height="3.75" fill="#1aa3d9"/><rect x="766.60" y="352.55" width="2.3" height="3.75" fill="#1aa3d9"/><rect x="773.90" y="345.05" width="2.3" height="11.25" fill="#1aa3d9"/><rect x="777.70" y="345.05" width="2.3" height="11.25" fill="#1aa3d9"/><rect x="785.20" y="352.55" width="2.3" height="3.75" fill="#1aa3d9"/><rect x="792.60" y="348.80" width="2.3" height="7.50" fill="#1aa3d9"/><rect x="822.10" y="333.80" width="2.3" height="22.50" fill="#1aa3d9"/><rect x="825.90" y="337.55" width="2.3" height="18.75" fill="#1aa3d9"/><rect x="829.70" y="348.80" width="2.3" height="7.50" fill="#1aa3d9"/><rect x="833.20" y="348.80" width="2.3" height="7.50" fill="#1aa3d9"/><rect x="848.10" y="333.80" width="2.3" height="22.50" fill="#1aa3d9"/><rect x="851.90" y="352.55" width="2.3" height="3.75" fill="#1aa3d9"/><rect x="855.70" y="352.55" width="2.3" height="3.75" fill="#1aa3d9"/><rect x="863.00" y="352.55" width="2.3" height="3.75" fill="#1aa3d9"/><rect x="870.30" y="337.55" width="2.3" height="18.75" fill="#1aa3d9"/><rect x="881.50" y="352.55" width="2.3" height="3.75" fill="#1aa3d9"/><rect x="885.20" y="352.55" width="2.3" height="3.75" fill="#1aa3d9"/><rect x="888.80" y="352.55" width="2.3" height="3.75" fill="#1aa3d9"/><rect x="907.50" y="352.55" width="2.3" height="3.75" fill="#1aa3d9"/><path d="M737.2 356.8H914.6" stroke="#cfcfcf" stroke-width="0.9"/></svg>
<div class="t" style="left:737.20px;top:363.62px;font-size:8.0px;line-height:8.0px;color:#909090;font-weight:400;transform:scaleX(0.9124);transform-origin:0 0;">vor 48 Std.</div>
<div class="t" style="left:314.60px;width:600px;text-align:right;top:363.62px;font-size:8.0px;line-height:8.0px;color:#909090;font-weight:400;transform:scaleX(0.9885);transform-origin:100% 0;">Jetzt</div>
<div class="t" style="left:737.20px;top:388.72px;font-size:8.0px;line-height:8.0px;color:#909090;font-weight:400;transform:scaleX(0.9529);transform-origin:0 0;">Top-Videos</div>
<div class="t" style="left:314.60px;width:600px;text-align:right;top:388.72px;font-size:8.0px;line-height:8.0px;color:#909090;font-weight:400;transform:scaleX(0.9770);transform-origin:100% 0;">Aufrufe</div>
<svg class="r" style="left:736.8px;top:409.3px;" width="35.5" height="20" viewBox="0 0 35.5 20"><defs><clipPath id="th1"><rect width="35.5" height="20" rx="1"/></clipPath></defs><g clip-path="url(#th1)"><rect width="35.5" height="20" fill="#6f9e4a"/><path d="M0 0H35.5V5L0 8.5Z" fill="#e9eef2"/><path d="M0 8.5L35.5 5V7L0 10Z" fill="#3f6a34"/><path d="M0 10L35.5 7V12L0 15Z" fill="#7fae58" opacity="0.6"/><path d="M0 13L4 11.5L9 20H0Z" fill="#9d9da3"/><rect x="24" y="8" width="3.2" height="5" fill="#b84a4a"/><rect x="24.4" y="13" width="2.4" height="4" fill="#8a6a50"/><circle cx="25.6" cy="7.2" r="1" fill="#c89a80"/><rect x="3" y="10" width="1.2" height="4" fill="#506080"/></g></svg>
<svg class="r" style="left:736.8px;top:434.5px;" width="35.5" height="20" viewBox="0 0 35.5 20"><defs><clipPath id="th2"><rect width="35.5" height="20" rx="1"/></clipPath></defs><g clip-path="url(#th2)"><rect width="35.5" height="20" fill="#0a0a0a"/><rect x="4.5" y="0" width="26.5" height="20" fill="#7d8c46"/><rect x="4.5" y="0" width="26.5" height="5" fill="#5f7a38"/><path d="M4.5 14L31 12V20H4.5Z" fill="#948252"/><path d="M13 5.5L15 4.6L30.5 16.5L28.6 18Z" fill="#e2262a"/><path d="M8 10.5L24 8.8L24.4 10L9 12.6Z" fill="#f2f2f2"/><path d="M5.5 9.5L9.5 9L10 13.5L6.5 14.5Z" fill="#f2d21a"/><path d="M6.5 12.5L9.5 12.2L9.2 15L7 15Z" fill="#e85a20"/><path d="M16 11L22 14.5L21 15.5L15 12Z" fill="#2a3a2a"/></g></svg>
<svg class="r" style="left:736.8px;top:460px;" width="35.5" height="20" viewBox="0 0 35.5 20"><defs><clipPath id="th3"><rect width="35.5" height="20" rx="1"/></clipPath></defs><g clip-path="url(#th3)"><rect width="35.5" height="20" fill="#d2d6da"/><rect x="0" y="0" width="21" height="20" fill="#e4e4e2"/><path d="M0 2L12 0.5V3L0 5Z" fill="#b8b8b8"/><rect x="20" y="0" width="7" height="8" fill="#8ec4ec"/><rect x="26" y="0" width="9.5" height="11" fill="#4f6e3e"/><path d="M14 8Q18 4 22 9L22 16H14Z" fill="#5a6e5e"/><path d="M22 11L35.5 10V20H22Z" fill="#5e9040"/><circle cx="25.5" cy="16" r="1.6" fill="#e04848"/><circle cx="31" cy="14.5" r="1.4" fill="#f07080"/><path d="M10 20L16 14H22V20Z" fill="#c9b0a0"/><rect x="2" y="8" width="9" height="7" fill="#f4f4f4"/></g></svg>
<div class="t" style="left:779.70px;top:415.59px;font-size:8.4px;line-height:8.4px;color:#282828;font-weight:400;transform:scaleX(0.9546);transform-origin:0 0;">Weiz Unterfladnitz Landunge...</div>
<div class="t" style="left:779.70px;top:440.59px;font-size:8.4px;line-height:8.4px;color:#282828;font-weight:400;transform:scaleX(0.9578);transform-origin:0 0;">Waldrast Impressionen 2003-...</div>
<div class="t" style="left:779.70px;top:465.59px;font-size:8.4px;line-height:8.4px;color:#282828;font-weight:400;transform:scaleX(0.9537);transform-origin:0 0;">Flora Hotel in Lanzarote Jan 2...</div>
<div class="t" style="left:314.60px;width:600px;text-align:right;top:415.59px;font-size:8.4px;line-height:8.4px;color:#282828;font-weight:400;">13</div>
<div class="t" style="left:314.60px;width:600px;text-align:right;top:440.59px;font-size:8.4px;line-height:8.4px;color:#282828;font-weight:400;">5</div>
<div class="t" style="left:314.60px;width:600px;text-align:right;top:465.59px;font-size:8.4px;line-height:8.4px;color:#282828;font-weight:400;">5</div>
<div class="t" style="left:737.00px;top:497.00px;font-size:9.8px;line-height:9.8px;color:#065fd4;font-weight:400;-webkit-text-stroke:0.35px #065fd4;transform:scaleX(0.8529);transform-origin:0 0;">MEHR ANZEIGEN</div>
<div class="r" style="left:0px;top:511.5px;width:945px;height:20.5px;background:linear-gradient(90deg,#dcd4d5 0px,#e4dada 190px,#e2dbd7 300px,#e0dcd5 420px,#dddad4 520px,#e0e2e5 565px,#e4e4e6 640px,#ebe3df 700px,#ece6e0 945px);"></div>
<svg class="r" style="left:7.6px;top:517.8px;" width="9" height="9" viewBox="0 0 9 9"><path d="M0.3 1.1L3.8 0.6V4H0.3Z M4.4 0.5L8.6 0V4H4.4Z M0.3 4.6H3.8V8L0.3 7.5Z M4.4 4.6H8.6V8.7L4.4 8.1Z" fill="#111"/></svg>
<div class="r" style="left:24px;top:512.5px;width:168.7px;height:18.7px;background:#fff;border:1px solid #dedede;"></div>
<svg class="r" style="left:30px;top:517px;" width="9" height="9" viewBox="0 0 9 9"><circle cx="5.2" cy="3.7" r="2.9" stroke="#222" stroke-width="0.9" fill="none"/><path d="M3.2 5.8L0.8 8.3" stroke="#222" stroke-width="1.1"/></svg>
<div class="t" style="left:43.40px;top:519.53px;font-size:7.4px;line-height:7.4px;color:#222;font-weight:400;transform:scaleX(0.9696);transform-origin:0 0;">Zur Suche Text hier eingeben</div>
<svg class="r" style="left:200px;top:517.5px;" width="10" height="10" viewBox="0 0 10 10"><circle cx="4.8" cy="4.6" r="3.4" stroke="#1a1a1a" stroke-width="1.3" fill="none"/></svg>
<svg class="r" style="left:223.5px;top:517.8px;" width="9.5" height="8.5" viewBox="0 0 9.5 8.5"><rect x="0.3" y="0.6" width="2" height="7.2" fill="#333"/><path d="M0.3 1H6.2M0.3 7.5H6.2" stroke="#333" stroke-width="1"/><rect x="5.6" y="0.6" width="1.1" height="7.2" fill="#333"/><path d="M8.3 0.4V2M8.3 3.4V5M8.3 6.4V8" stroke="#333" stroke-width="0.9"/></svg>
<svg class="r" style="left:247.6px;top:517.3px;" width="11.6" height="9.6" viewBox="0 0 11.6 9.6"><path d="M0.3 0.8H4.3L5.3 1.9H11.2V9.3H0.3Z" fill="#e9b22b"/><rect x="0.3" y="2.6" width="10.9" height="6.7" fill="#fcd35c"/><path d="M3.4 9.3V5.6H8.1V9.3H6.9V6.9H4.6V9.3Z" fill="#2b7bd6"/></svg>
<svg class="r" style="left:271.4px;top:516px;" width="12.6" height="11.8" viewBox="0 0 12.6 11.8"><path d="M0.3 4.4L6.3 0.2L12.3 4.4Z" fill="#0b5fb6"/><rect x="0.3" y="4.4" width="12" height="7.2" fill="#1d93e6"/><path d="M2.4 4.4H10.2L6.3 7.6Z" fill="#fff"/><path d="M0.3 11.6L6.3 6.8L12.3 11.6Z" fill="#46acf0"/></svg>
<svg class="r" style="left:296px;top:516px;" width="11.5" height="11.5" viewBox="0 0 11.5 11.5"><circle cx="5.8" cy="6" r="4.2" stroke="#4db4ec" stroke-width="2.1" fill="none"/><path d="M1.6 6.2H10" stroke="#4db4ec" stroke-width="1.6"/><path d="M3.5 6.2H11" stroke="#e2f3fc" stroke-width="0.7"/><path d="M1.2 10.6Q-0.6 7 9.5 1 Q11.8 0 10.6 2.2" stroke="#f2c31b" stroke-width="1.1" fill="none"/></svg>
<svg class="r" style="left:319.8px;top:516.8px;" width="12" height="10.5" viewBox="0 0 12 10.5"><path d="M5.5 2L11.8 4.4L9.5 5.4L11.8 7.5L5.5 9.6Z" fill="#d8283a"/><path d="M0.4 0.4L7.6 5.2L0.4 10Z" fill="#1b3a8e"/></svg>
<svg class="r" style="left:343.8px;top:516.2px;" width="12.6" height="11.5" viewBox="0 0 12.6 11.5"><path d="M1.6 7.8V6A4.7 4.7 0 0 1 11 6V7.8" stroke="#1537e0" stroke-width="1.6" fill="none"/><rect x="0.4" y="6.4" width="2.6" height="4.6" rx="1" fill="#1537e0"/><rect x="9.6" y="6.4" width="2.6" height="4.6" rx="1" fill="#1537e0"/><ellipse cx="6.3" cy="7.4" rx="3" ry="3" fill="#f7c51e"/><rect x="3.4" y="6.8" width="5.8" height="1.3" fill="#e82a2a"/><rect x="3.8" y="8.6" width="5" height="0.9" fill="#f08a1e"/></svg>
<svg class="r" style="left:368px;top:516.3px;" width="12" height="11.5" viewBox="0 0 12 11.5"><circle cx="6.3" cy="6" r="5.1" fill="#f2d24a"/><circle cx="6.3" cy="6" r="5.1" fill="none" stroke="#c9a030" stroke-width="0.5"/><ellipse cx="4.6" cy="4.3" rx="1.2" ry="1.4" fill="#fff"/><ellipse cx="8" cy="4.3" rx="1.2" ry="1.4" fill="#fff"/><circle cx="4.8" cy="4.5" r="0.6" fill="#222"/><circle cx="7.8" cy="4.5" r="0.6" fill="#222"/><path d="M3.3 6.8Q6.3 10.8 9.3 6.8Z" fill="#b2312a"/><circle cx="1.2" cy="5.6" r="1.4" fill="#4b8a6a"/><circle cx="11.3" cy="5.6" r="1.4" fill="#4b8a6a"/></svg>
<svg class="r" style="left:392.5px;top:516.3px;" width="11" height="12" viewBox="0 0 11 12"><rect x="0.8" y="1.4" width="2.6" height="9.8" fill="#6b3517"/><rect x="3.4" y="2.2" width="2.2" height="9" fill="#3f7b86"/><rect x="5.6" y="0.5" width="1.8" height="10.7" fill="#e6c25a"/><path d="M7.6 3.6L9.3 3.2L11 10.6L9.3 11Z" fill="#3f86ee"/></svg>
<svg class="r" style="left:415.8px;top:516.8px;" width="11.5" height="11" viewBox="0 0 11.5 11"><rect x="0.3" y="0.5" width="10.8" height="10" rx="1" fill="#9acbeb"/><circle cx="5.7" cy="5.5" r="3.7" fill="#f07d14"/><path d="M4.6 3.5L7.7 5.5L4.6 7.5Z" fill="#fff"/></svg>
<svg class="r" style="left:440px;top:516px;" width="12" height="12" viewBox="0 0 12 12"><rect x="0" y="0" width="12" height="12" rx="0.6" fill="#0c0c0c"/><text x="6" y="3.5" font-size="2.9" font-family="Liberation Sans" font-weight="700" fill="#ddd" text-anchor="middle">OPEN</text><text x="2.1" y="11.2" font-size="7.6" font-family="Liberation Sans" font-weight="700" fill="#fff">T<tspan fill="#2ed82e">X</tspan></text></svg>
<svg class="r" style="left:464.7px;top:516px;" width="12" height="12" viewBox="0 0 12 12"><rect x="0" y="0" width="12" height="12" rx="0.6" fill="#0c0c0c"/><text x="6" y="3.5" font-size="2.9" font-family="Liberation Sans" font-weight="700" fill="#ddd" text-anchor="middle">OPEN</text><text x="2.1" y="11.2" font-size="7.6" font-family="Liberation Sans" font-weight="700" fill="#fff">T<tspan fill="#2ed82e">X</tspan></text></svg>
<svg class="r" style="left:490px;top:517.3px;" width="9.5" height="9.5" viewBox="0 0 9.5 9.5"><path d="M4.75 0.3L9.2 1.6V4.6Q9.2 7.7 4.75 9.3Q0.3 7.7 0.3 4.6V1.6Z" fill="#0e0e0e"/><path d="M4.75 1.2V8.6M1.2 4.6H8.3" stroke="#ddd" stroke-width="0.7"/></svg>
<svg class="r" style="left:512.8px;top:516px;" width="12" height="12" viewBox="0 0 12 12"><defs><linearGradient id="eg" x1="1" y1="0" x2="0" y2="1"><stop offset="0" stop-color="#5ad57a"/><stop offset="0.45" stop-color="#1e9be8"/><stop offset="1" stop-color="#0b4ea8"/></linearGradient></defs><circle cx="6" cy="6" r="5.7" fill="url(#eg)"/><path d="M2.6 7.8Q2.2 4.6 5 3.9Q8.2 3.4 8.6 6.4H5.2Q4.4 8.8 7.4 9.6Q4.4 10.4 2.6 7.8Z" fill="#0d55b0"/><path d="M5.4 6.3Q5.6 5 6.8 5.1Q7.8 5.3 7.8 6.3Z" fill="#bfe4fa"/></svg>
<div class="r" style="left:531px;top:511.5px;width:23.8px;height:20.5px;background:rgba(250,250,250,0.75);"></div>
<div class="r" style="left:531px;top:530.7px;width:23.8px;height:1.3px;background:#2f7ad0;"></div>
<svg class="r" style="left:537px;top:516.2px;" width="11.6" height="11.6" viewBox="0 0 11.6 11.6"><circle cx="5.8" cy="5.8" r="5.6" fill="#db4437"/><path d="M5.8 5.8L10.65 3A5.6 5.6 0 0 1 5.8 11.4Z" fill="#f4c20d"/><path d="M5.8 5.8L5.8 11.4A5.6 5.6 0 0 1 0.95 3Z" fill="#0f9d58"/><circle cx="5.8" cy="5.8" r="2.7" fill="#fff"/><circle cx="5.8" cy="5.8" r="2.05" fill="#4285f4"/></svg>
<svg class="r" style="left:560.8px;top:516.2px;" width="11.6" height="11.6" viewBox="0 0 11.6 11.6"><rect x="0.4" y="0.6" width="10.8" height="10.6" rx="1" fill="#f6b64a"/><rect x="1.2" y="1.4" width="9.2" height="9" rx="0.6" fill="#fde9b8"/><ellipse cx="4.4" cy="4.8" rx="2.6" ry="3" fill="#ef8a12"/><ellipse cx="4.4" cy="4.8" rx="1.3" ry="1.8" fill="#fde9b8"/><path d="M1.8 8.4L6 6.2L10.4 8.4V10.4H1.8Z" fill="#f4a838"/></svg>
<svg class="r" style="left:823.5px;top:519.8px;" width="8" height="5" viewBox="0 0 8 5"><path d="M0.8 4.2L3.8 1.2L6.8 4.2" stroke="#222" stroke-width="0.9" fill="none"/></svg>
<svg class="r" style="left:835.3px;top:518.5px;" width="8.5" height="7" viewBox="0 0 8.5 7"><rect x="2.2" y="1.6" width="6" height="4.2" fill="#222"/><rect x="0.2" y="3" width="2.4" height="1.4" fill="#222"/><path d="M3 0.6V1.8M5 0.6V1.8" stroke="#222" stroke-width="0.6"/></svg>
<svg class="r" style="left:846.8px;top:517.5px;" width="8.5" height="9" viewBox="0 0 8.5 9"><rect x="2.3" y="1.6" width="4" height="3.4" stroke="#222" stroke-width="0.8" fill="none"/><path d="M0.2 4.8H8.3M4.3 4.8V8.8M2.4 8.6H6.2" stroke="#222" stroke-width="0.8"/></svg>
<svg class="r" style="left:858.5px;top:518px;" width="9" height="8" viewBox="0 0 9 8"><path d="M0.6 2.8H2.3L4.4 0.8V7.2L2.3 5.2H0.6Z" fill="none" stroke="#222" stroke-width="0.8"/><path d="M6 2.2Q7 4 6 5.8M7.4 1.2Q8.8 4 7.4 6.8" stroke="#bbb" stroke-width="0.7" fill="none"/></svg>
<div class="t" style="left:872.20px;top:519.11px;font-size:6.6px;line-height:6.6px;color:#222;font-weight:400;transform:scaleX(0.7750);transform-origin:0 0;">DEU</div>
<div class="t" style="left:602.50px;width:600px;text-align:center;top:514.93px;font-size:6.7px;line-height:6.7px;color:#222;font-weight:400;transform:scaleX(0.8648);transform-origin:50% 0;">09:19</div>
<div class="t" style="left:602.90px;width:600px;text-align:center;top:523.23px;font-size:6.7px;line-height:6.7px;color:#222;font-weight:400;transform:scaleX(0.7694);transform-origin:50% 0;">18.10.2020</div>
<svg class="r" style="left:924.4px;top:517.8px;" width="9" height="9" viewBox="0 0 9 9"><path d="M0.6 0.6H8.4V6.4H6.2L5.2 8.2V6.4H0.6Z" stroke="#222" stroke-width="0.8" fill="none" stroke-linejoin="round"/></svg>
<div class="r" style="left:942.2px;top:512px;width:0.8px;height:20px;background:#d2ccc8;"></div>
</div></body></html>
